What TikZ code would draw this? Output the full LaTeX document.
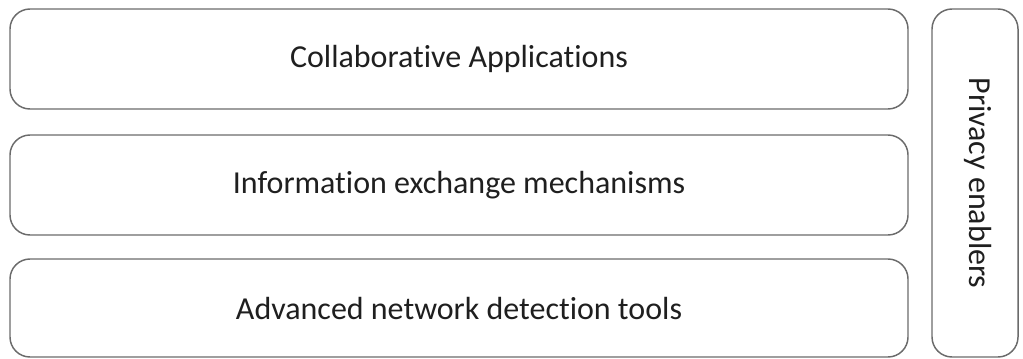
\documentclass[tikz,border=0pt]{standalone}
\usepackage{fontspec}
\setmainfont{Carlito}[Ligatures=CommonOff]
\usetikzlibrary{calc}

\begin{document}
\begin{tikzpicture}[x=0.75pt, y=-0.75pt, thick,
    layer/.style={draw=black!58, line width=1.1pt, fill=white, rounded corners=15pt,
                  font=\fontsize{24}{28}\selectfont, text=black!88, inner sep=0pt}]

  \useasboundingbox (0, 0) rectangle (1023, 358);

  % stacked layers
  \foreach \y/\h/\name/\txt in {59/100/apps/Collaborative Applications,
                                185/100/exch/Information exchange mechanisms,
                                308/98/tools/Advanced network detection tools} {
    \node[layer, minimum width=898*0.75pt, minimum height=\h*0.75pt] (\name) at (459, \y) {\txt};
  }

  % side pillar
  \node[layer, minimum width=86*0.75pt, minimum height=348*0.75pt] (privacy) at (975, 183) {};
  \node[font=\fontsize{24}{28}\selectfont, text=black!88, rotate=-90] (privlabel)
    at ([xshift=3*0.75pt]privacy.center) {Privacy enablers};

\end{tikzpicture}
\end{document}
